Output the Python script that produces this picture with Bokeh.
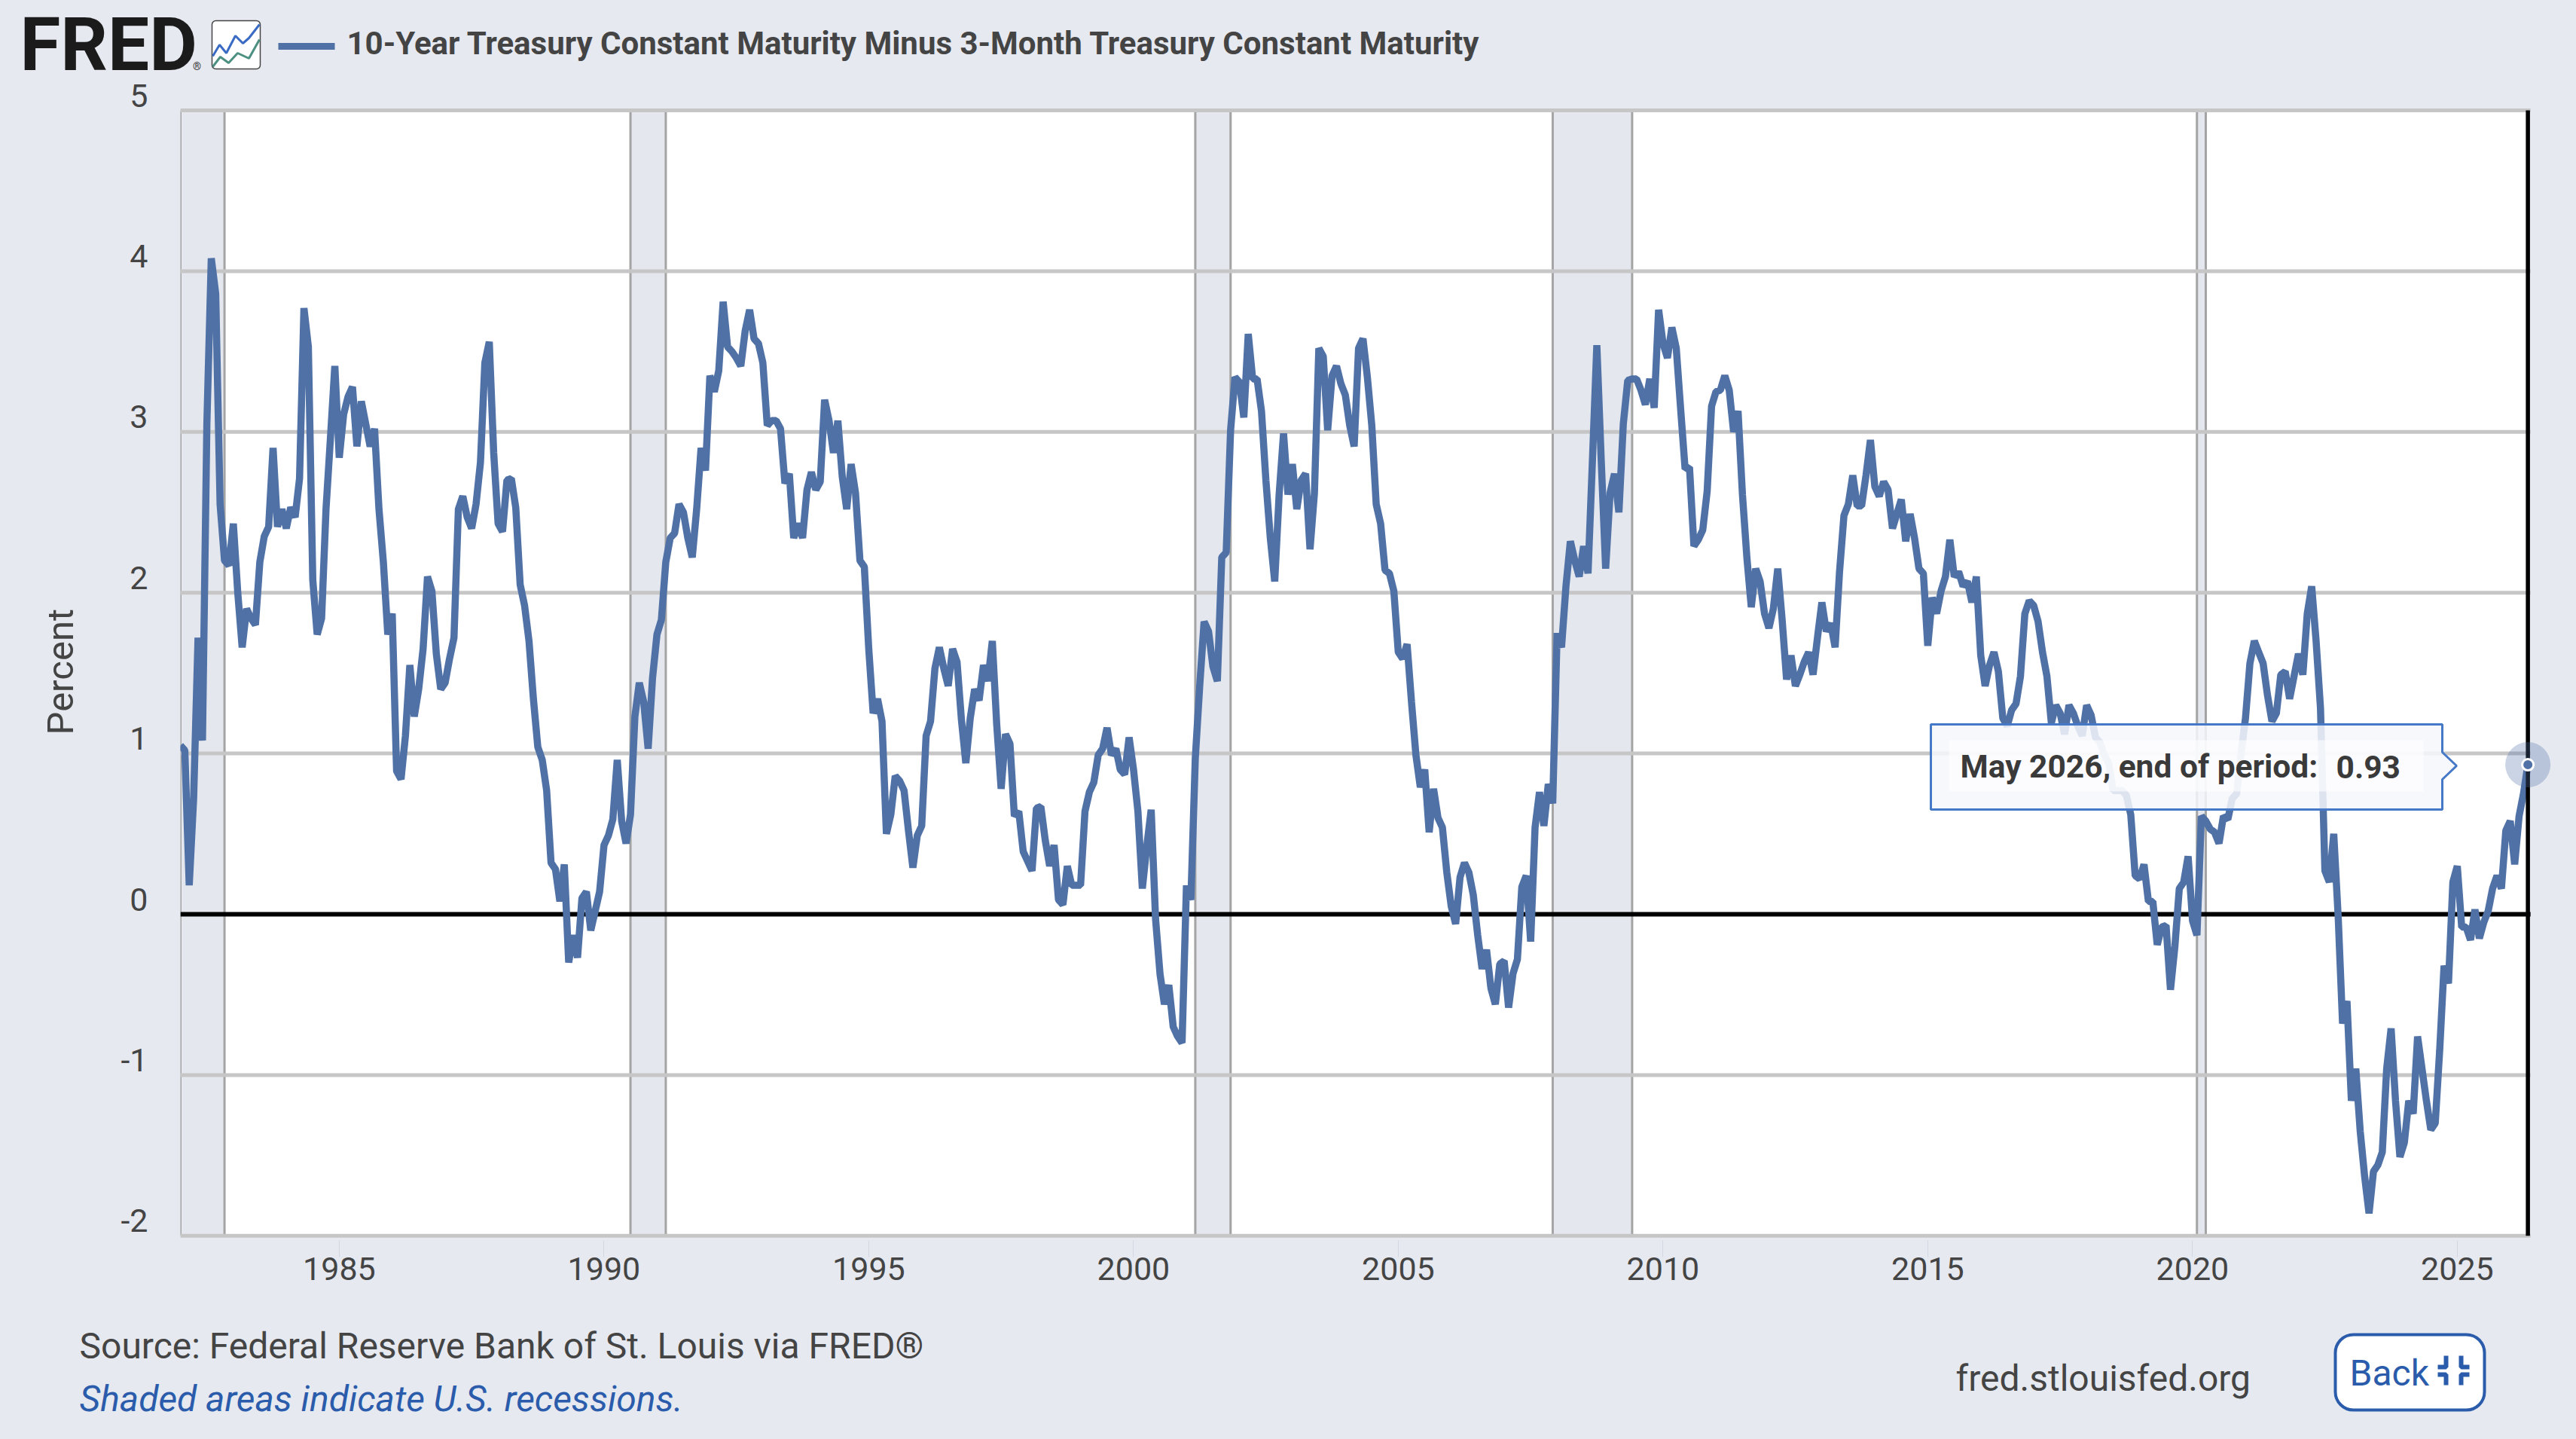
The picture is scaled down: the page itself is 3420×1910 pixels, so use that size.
from bokeh.plotting import figure
from bokeh.embed import file_html
from bokeh.resources import INLINE
from bokeh.layouts import column, row
from bokeh.models import (Range1d, LinearAxis, FixedTicker, NumeralTickFormatter)
from bokeh.core.properties import value

# ---- data (Percent, month-end readings) ----
y1982 = [1.05,1.02,0.18,0.72,1.72,1.08,3.05,4.08,3.86,2.55,2.20,2.17]
y1983 = [2.43,2.00,1.66,1.90,1.84,1.80,2.19,2.35,2.41,2.90,2.41,2.52]
y1984 = [2.40,2.53,2.47,2.71,3.77,3.53,2.08,1.74,1.84,2.52,2.96,3.41]
y1985 = [2.84,3.11,3.22,3.28,2.91,3.19,3.05,2.91,3.02,2.52,2.19,1.74]
y1986 = [1.87,0.89,0.84,1.11,1.55,1.23,1.40,1.65,2.10,2.01,1.62,1.40]
y1987 = [1.44,1.59,1.72,2.52,2.60,2.47,2.40,2.55,2.81,3.43,3.56,2.87]
y1988 = [2.43,2.38,2.70,2.71,2.53,2.05,1.92,1.70,1.34,1.04,0.96,0.77]
y1989 = [0.32,0.28,0.08,0.31,-0.30,-0.13,-0.27,0.10,0.14,-0.10,0.02,0.14]
y1990 = [0.43,0.49,0.59,0.96,0.58,0.44,0.62,1.23,1.44,1.32,1.03,1.47]
y1991 = [1.74,1.83,2.19,2.34,2.37,2.55,2.50,2.34,2.22,2.52,2.90,2.76]
y1992 = [3.35,3.25,3.38,3.81,3.53,3.50,3.46,3.41,3.63,3.76,3.58,3.55]
y1993 = [3.43,3.04,3.07,3.07,3.02,2.68,2.74,2.34,2.43,2.34,2.64,2.75]
y1994 = [2.64,2.69,3.20,3.07,2.87,3.07,2.72,2.52,2.80,2.62,2.20,2.16]
y1995 = [1.65,1.25,1.34,1.20,0.50,0.62,0.86,0.83,0.77,0.52,0.29,0.49]
y1996 = [0.55,1.11,1.20,1.53,1.66,1.53,1.42,1.65,1.57,1.21,0.94,1.22]
y1997 = [1.40,1.33,1.55,1.45,1.70,1.18,0.78,1.12,1.06,0.61,0.64,0.39]
y1998 = [0.33,0.27,0.66,0.67,0.46,0.30,0.43,0.09,0.06,0.30,0.18,0.18]
y1999 = [0.18,0.64,0.76,0.82,0.99,1.03,1.16,0.99,1.03,0.90,0.87,1.10]
y2000 = [0.90,0.64,0.16,0.42,0.65,-0.03,-0.37,-0.56,-0.44,-0.70,-0.76,-0.80]
y2001 = [0.18,0.09,0.97,1.42,1.82,1.76,1.54,1.45,2.22,2.25,3.01,3.34]
y2002 = [3.31,3.09,3.61,3.33,3.33,3.13,2.70,2.34,2.07,2.61,2.99,2.61]
y2003 = [2.80,2.52,2.70,2.74,2.27,2.62,3.52,3.47,3.01,3.35,3.41,3.30]
y2004 = [3.23,3.04,2.91,3.52,3.58,3.34,3.04,2.55,2.43,2.14,2.12,2.01]
y2005 = [1.63,1.59,1.68,1.32,0.99,0.79,0.90,0.51,0.78,0.60,0.54,0.26]
y2006 = [0.05,-0.06,0.23,0.32,0.26,0.12,-0.13,-0.34,-0.22,-0.46,-0.56,-0.31]
y2007 = [-0.29,-0.58,-0.37,-0.28,0.17,0.24,-0.17,0.54,0.76,0.55,0.81,0.69]
y2008 = [1.75,1.66,2.04,2.32,2.20,2.10,2.29,2.12,2.82,3.54,2.82,2.15]
y2009 = [2.62,2.74,2.50,3.05,3.32,3.33,3.33,3.26,3.17,3.33,3.15,3.76]
y2010 = [3.55,3.46,3.65,3.52,3.14,2.77,2.78,2.29,2.33,2.39,2.63,3.16]
y2011 = [3.25,3.26,3.35,3.26,3.00,3.13,2.61,2.22,1.91,2.15,2.07,1.87]
y2012 = [1.78,1.90,2.15,1.83,1.46,1.61,1.42,1.49,1.57,1.63,1.49,1.72]
y2013 = [1.94,1.76,1.81,1.66,2.13,2.48,2.55,2.73,2.54,2.54,2.73,2.95]
y2014 = [2.66,2.60,2.69,2.64,2.40,2.49,2.58,2.32,2.49,2.34,2.15,2.12]
y2015 = [1.67,1.97,1.87,2.01,2.10,2.33,2.10,2.13,2.04,2.07,1.94,2.10]
y2016 = [1.61,1.42,1.55,1.63,1.51,1.22,1.17,1.27,1.31,1.48,1.87,1.95]
y2017 = [1.92,1.82,1.63,1.48,1.19,1.30,1.25,1.12,1.30,1.25,1.17,1.11]
y2018 = [1.30,1.24,1.10,1.07,0.99,0.94,0.77,0.77,0.77,0.74,0.62,0.24]
y2019 = [0.22,0.31,0.08,0.08,-0.19,-0.08,-0.07,-0.47,-0.20,0.16,0.20,0.36]
y2020 = [-0.04,-0.13,0.61,0.58,0.53,0.51,0.44,0.61,0.59,0.72,0.75,1.00]
y2021 = [1.22,1.56,1.70,1.63,1.56,1.36,1.20,1.25,1.49,1.51,1.34,1.48]
y2022 = [1.62,1.49,1.87,2.04,1.70,1.28,0.27,0.20,0.50,-0.01,-0.68,-0.54]
y2023 = [-1.16,-0.96,-1.35,-1.63,-1.86,-1.60,-1.56,-1.48,-0.96,-0.71,-1.16,-1.51]
y2024 = [-1.42,-1.16,-1.24,-0.76,-0.96,-1.16,-1.34,-1.30,-0.85,-0.32,-0.43,0.20]
y2025 = [0.30,-0.08,-0.08,-0.16,0.03,-0.15,-0.05,0.02,0.16,0.24,0.16,0.52]
y2026 = [0.58,0.31,0.61,0.75,0.93]

by_year = [y1982,y1983,y1984,y1985,y1986,y1987,y1988,y1989,y1990,y1991,y1992,y1993,y1994,y1995,
           y1996,y1997,y1998,y1999,y2000,y2001,y2002,y2003,y2004,y2005,y2006,y2007,y2008,y2009,
           y2010,y2011,y2012,y2013,y2014,y2015,y2016,y2017,y2018,y2019,y2020,y2021,y2022,y2023,
           y2024,y2025,y2026]
values = [v for yr in by_year for v in yr]
dates = [1982 + i / 12 for i in range(len(values))]

rec_start = [1982.0, 1990.5, 2001.1667, 2007.9167, 2020.0833]
rec_end   = [1982.8333, 1991.1667, 2001.8333, 2009.4167, 2020.25]
y_ticks = [-2, -1, 0, 1, 2, 3, 4, 5]
grid_ticks = [-2, -1, 1, 2, 3, 4, 5]
x_ticks = [1985, 1990, 1995, 2000, 2005, 2010, 2015, 2020, 2025]

title = "10-Year Treasury Constant Maturity Minus 3-Month Treasury Constant Maturity"
source = "Source: Federal Reserve Bank of St. Louis via FRED®"
note = "Shaded areas indicate U.S. recessions."

BG = "#e6e9f0"; LINE = "#4f71a6"; GRID = "#c6c6c6"; TXT = "#444444"; BLUE = "#2a5cab"; REC = "#e4e7ee"
FONT = value("Roboto")
W = 3420
X0, X_END = 239, 3420      # frame edges, page px
Y_TOP, Y_BOT = 100, 1646
PX_YEAR = 70.30
PX_VAL = 213.4
Y_ZERO = 1213


def strip(p):
    p.toolbar_location = None
    p.outline_line_color = None
    p.background_fill_color = BG
    p.border_fill_color = BG
    p.min_border = 0


# ---- header: a frame whose ranges equal page pixels; it runs 20 px under the chart's top edge ----
h = figure(width=W, height=120, output_backend="svg", toolbar_location=None,
           x_range=Range1d(0, W), y_range=Range1d(120, 0), x_axis_location=None, y_axis_location=None)
strip(h); h.grid.visible = False
h.text(x=[26], y=[59], text=["FRED"], text_font=FONT, text_font_style="bold", text_font_size="98px",
       text_color="#1b1b1b", text_baseline="middle")
h.text(x=[261], y=[87], text=["®"], text_font=FONT, text_font_size="14px", text_color="#333333",
       text_baseline="middle", text_align="center")
h.quad(left=[281], right=[345], top=[27], bottom=[91], fill_color="white", line_color="#444444",
       line_width=1.5, border_radius=5)
h.line([282, 291, 300, 312, 322, 330, 344], [74, 59, 70, 47, 57, 50, 32], line_color="#3a6bc4", line_width=3)
h.line([282, 292, 303, 315, 330, 344], [88, 75, 83, 70, 77, 52], line_color="#4b9080", line_width=3)
h.line([369, 444], [61, 61], line_color=LINE, line_width=9)
h.text(x=[460], y=[57], text=[title], text_font=FONT, text_font_style="bold", text_font_size="42px",
       text_color=TXT, text_baseline="middle", text_align="left")

# ---- main chart ----
x_start = 1982.0
x_end = x_start + (X_END - X0) / PX_YEAR
p = figure(width=W, height=1730 - 100, output_backend="svg", toolbar_location=None,
           x_range=Range1d(x_start, x_end),
           y_range=Range1d((Y_ZERO - Y_BOT) / PX_VAL, (Y_ZERO - Y_TOP) / PX_VAL))
strip(p)
p.min_border_left = X0
p.min_border_bottom = 1730 - Y_BOT

last_x = dates[-1]
# page-pixel coordinate system for the annotation furniture
p.extra_x_ranges["px"] = Range1d(X0, X_END)
p.extra_y_ranges["py"] = Range1d(Y_BOT, Y_TOP)
# tick labels sit above their gridline: an axis on a range shifted by 20 px
shift = 20 / PX_VAL
p.extra_y_ranges["labels"] = Range1d(p.y_range.start - shift, p.y_range.end - shift)

p.yaxis.visible = False
ya = LinearAxis(y_range_name="labels", ticker=FixedTicker(ticks=y_ticks),
                major_label_overrides={-2: "-2", -1: "-1"},
                axis_line_color=None, major_tick_line_color=None, minor_tick_line_color=None,
                major_label_text_font="Roboto", major_label_text_font_size="43px",
                major_label_text_color=TXT, major_label_standoff=37,
                axis_label="Percent\u00a0\u00a0\u00a0", axis_label_text_font="Roboto",
                axis_label_text_font_size="49px", axis_label_text_font_style="normal",
                axis_label_text_color=TXT, axis_label_standoff=48)
p.add_layout(ya, "left")

xa = p.xaxis[0]
xa.ticker = FixedTicker(ticks=x_ticks)
xa.formatter = NumeralTickFormatter(format="0")
xa.axis_line_color = None
xa.major_tick_line_color = "#d2d7e2"
xa.major_tick_line_width = 1
xa.major_tick_in = 0
xa.major_tick_out = 22
xa.minor_tick_line_color = None
xa.major_label_text_font = "Roboto"
xa.major_label_text_font_size = "43px"
xa.major_label_text_color = TXT
xa.major_label_standoff = 0

p.grid.visible = False
# plot area white
p.quad(left=[x_start], right=[last_x], top=[5], bottom=[-2], fill_color="white", line_color=None, level="underlay")
# recession shading
p.quad(left=rec_start, right=rec_end, top=[5] * 5, bottom=[-2] * 5, fill_color=REC, line_color=None, level="underlay")
for edge in (rec_start, rec_end):
    p.segment(x0=edge, x1=edge, y0=[-2] * 5, y1=[5] * 5, line_color="#a4a4a4", line_width=3, level="underlay")
n = len(grid_ticks)
p.segment(x0=[x_start] * n, x1=[last_x + 0.05] * n, y0=grid_ticks, y1=grid_ticks, line_color=GRID, line_width=5,
          level="underlay")

p.segment(x0=[x_start], x1=[last_x + 0.05], y0=[0], y1=[0], line_color="black", line_width=6)
p.line(dates, values, line_color=LINE, line_width=9.5, line_join="bevel")
p.segment(x0=[last_x], x1=[last_x], y0=[-2], y1=[5], line_color="black", line_width=5.5)

# hover marker
p.scatter([last_x], [values[-1]], size=60, marker="circle", fill_color=LINE, fill_alpha=0.3, line_color=None)
p.scatter([last_x], [values[-1]], size=15, marker="circle", fill_color=LINE, line_color="white", line_width=3)

# tooltip (page px)
kw = dict(x_range_name="px", y_range_name="py")
p.patch([2563, 3242, 3242, 3261, 3242, 3242, 2563], [961, 961, 998, 1016, 1034, 1074, 1074],
        fill_color="#f6f7fb", fill_alpha=0.85, line_color="#4678c8", line_width=3, **kw)
p.quad(left=[2587], right=[3217], top=[982], bottom=[1050], fill_color="white", fill_alpha=0.6, line_color=None, **kw)
p.text(x=[2602], y=[1017], text=["May 2026, end of period:"], text_font=FONT, text_font_style="bold",
       text_font_size="42.5px", text_color="#3a3a3a", text_baseline="middle", **kw)
p.text(x=[3101], y=[1017], text=["0.93"], text_font=FONT, text_font_style="bold",
       text_font_size="42.5px", text_color="#3a3a3a", text_baseline="middle", **kw)

# ---- footer ----
f = figure(width=W, height=180, output_backend="svg", toolbar_location=None,
           x_range=Range1d(0, W), y_range=Range1d(1910, 1730), x_axis_location=None, y_axis_location=None)
strip(f); f.grid.visible = False
f.text(x=[105], y=[1786], text=[source], text_font=FONT, text_font_size="48px", text_color=TXT,
       text_baseline="middle")
f.text(x=[105], y=[1856], text=[note], text_font=FONT, text_font_style="italic", text_font_size="48px",
       text_color=BLUE, text_baseline="middle")
f.text(x=[2596], y=[1829], text=["fred.stlouisfed.org"], text_font=FONT, text_font_size="48px", text_color=TXT,
       text_baseline="middle")
f.quad(left=[3100], right=[3298], top=[1771], bottom=[1871], fill_color="white", line_color=BLUE,
       line_width=4, border_radius=24)
f.text(x=[3119], y=[1822], text=["Back"], text_font=FONT, text_font_size="48px", text_color=BLUE,
       text_baseline="middle")
f.multi_line(xs=[[3247, 3247, 3236], [3267, 3267, 3278], [3247, 3247, 3236], [3267, 3267, 3278]],
             ys=[[1799, 1814, 1814], [1799, 1814, 1814], [1838, 1824, 1824], [1838, 1824, 1824]],
             line_color=BLUE, line_width=6)

layout = column(row(h, margin=(0, 0, -20, 0)), p, row(f), spacing=0)
html = file_html(layout, INLINE)
html = html.replace("</head>", "<style>html,body{background:#e6e9f0}</style></head>")
open("out.html", "w").write(html)
